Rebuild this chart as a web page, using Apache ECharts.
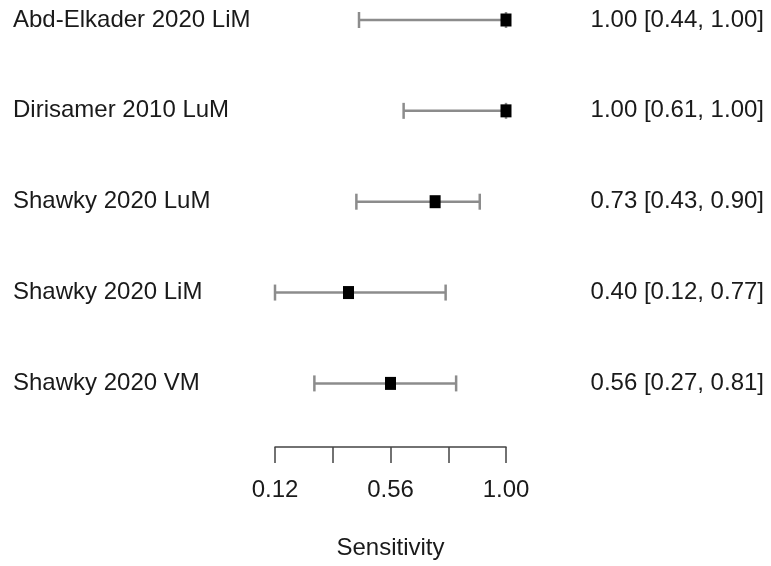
<!DOCTYPE html>
<html>
<head>
<meta charset="utf-8">
<script src="https://cdn.jsdelivr.net/npm/echarts@6/dist/echarts.min.js"></script>
<style>
html,body{margin:0;padding:0;background:#fff;}
#chart{width:771px;height:566px;}
</style>
</head>
<body>
<div id="chart"></div>
<script>
// Data (top row first)
var studies = ['Abd-Elkader 2020 LiM', 'Dirisamer 2010 LuM', 'Shawky 2020 LuM', 'Shawky 2020 LiM', 'Shawky 2020 VM'];
var sensitivity = [1.00, 1.00, 0.73, 0.40, 0.56];
var lower = [0.44, 0.61, 0.43, 0.12, 0.27];
var upper = [1.00, 1.00, 0.90, 0.77, 0.81];
var tickValues = [0.12, 0.34, 0.56, 0.78, 1.00];
var tickLabels = [0.12, 0.56, 1.00];

var n = studies.length;
var rowPos = studies.map(function (s, i) { return n - i; });
var ciText = studies.map(function (s, i) {
  return sensitivity[i].toFixed(2) + ' [' + lower[i].toFixed(2) + ', ' + upper[i].toFixed(2) + ']';
});

var font = "'Liberation Sans', Arial, Helvetica, sans-serif";
var textColor = '#1a1a1a';

var chart = echarts.init(document.getElementById('chart'), null, {renderer: 'canvas'});
chart.setOption({
  animation: false,
  backgroundColor: '#ffffff',
  grid: {left: 275, right: 265, top: 20, bottom: 119, containLabel: false},
  xAxis: {
    type: 'value',
    min: 0.12,
    max: 1.00,
    name: 'Sensitivity',
    nameLocation: 'middle',
    nameGap: 89,
    nameTextStyle: {fontFamily: font, fontSize: 24, color: textColor},
    axisLine: {show: true, onZero: false, lineStyle: {color: '#444', width: 1.5}},
    axisTick: {show: true, length: 16, customValues: tickValues, lineStyle: {color: '#444', width: 1.5}},
    axisLabel: {
      customValues: tickLabels,
      margin: 31,
      fontFamily: font, fontSize: 24, color: textColor,
      formatter: function (v) { return Number(v).toFixed(2); }
    },
    splitLine: {show: false}
  },
  yAxis: [{
    type: 'value',
    min: 0.3,
    max: 5,
    position: 'left',
    axisLine: {show: false},
    axisTick: {show: false},
    splitLine: {show: false},
    axisLabel: {
      customValues: rowPos,
      align: 'left',
      margin: 262,
      fontFamily: font, fontSize: 24, color: textColor,
      formatter: function (v) { var i = n - Math.round(v); return studies[i] || ''; }
    }
  }, {
    type: 'value',
    min: 0.3,
    max: 5,
    position: 'right',
    axisLine: {show: false},
    axisTick: {show: false},
    splitLine: {show: false},
    axisLabel: {
      customValues: rowPos,
      align: 'right',
      margin: 258,
      fontFamily: font, fontSize: 24, color: textColor,
      formatter: function (v) { var i = n - Math.round(v); return ciText[i] || ''; }
    }
  }],
  series: [{
    type: 'custom',
    silent: true,
    data: studies.map(function (s, i) { return [lower[i], upper[i], rowPos[i]]; }),
    encode: {x: [0, 1], y: 2},
    renderItem: function (params, api) {
      var p1 = api.coord([api.value(0), api.value(2)]);
      var p2 = api.coord([api.value(1), api.value(2)]);
      var h = 8;
      var st = {stroke: '#8c8c8c', lineWidth: 2.5};
      return {
        type: 'group',
        children: [
          {type: 'line', shape: {x1: p1[0], y1: p1[1], x2: p2[0], y2: p2[1]}, style: st},
          {type: 'line', shape: {x1: p1[0], y1: p1[1] - h, x2: p1[0], y2: p1[1] + h}, style: st},
          {type: 'line', shape: {x1: p2[0], y1: p2[1] - h, x2: p2[0], y2: p2[1] + h}, style: st}
        ]
      };
    }
  }, {
    type: 'scatter',
    silent: true,
    symbol: 'rect',
    symbolSize: [11, 13],
    itemStyle: {color: '#000', opacity: 1},
    data: studies.map(function (s, i) { return [sensitivity[i], rowPos[i]]; }),
    z: 5
  }]
});
</script>
</body>
</html>
